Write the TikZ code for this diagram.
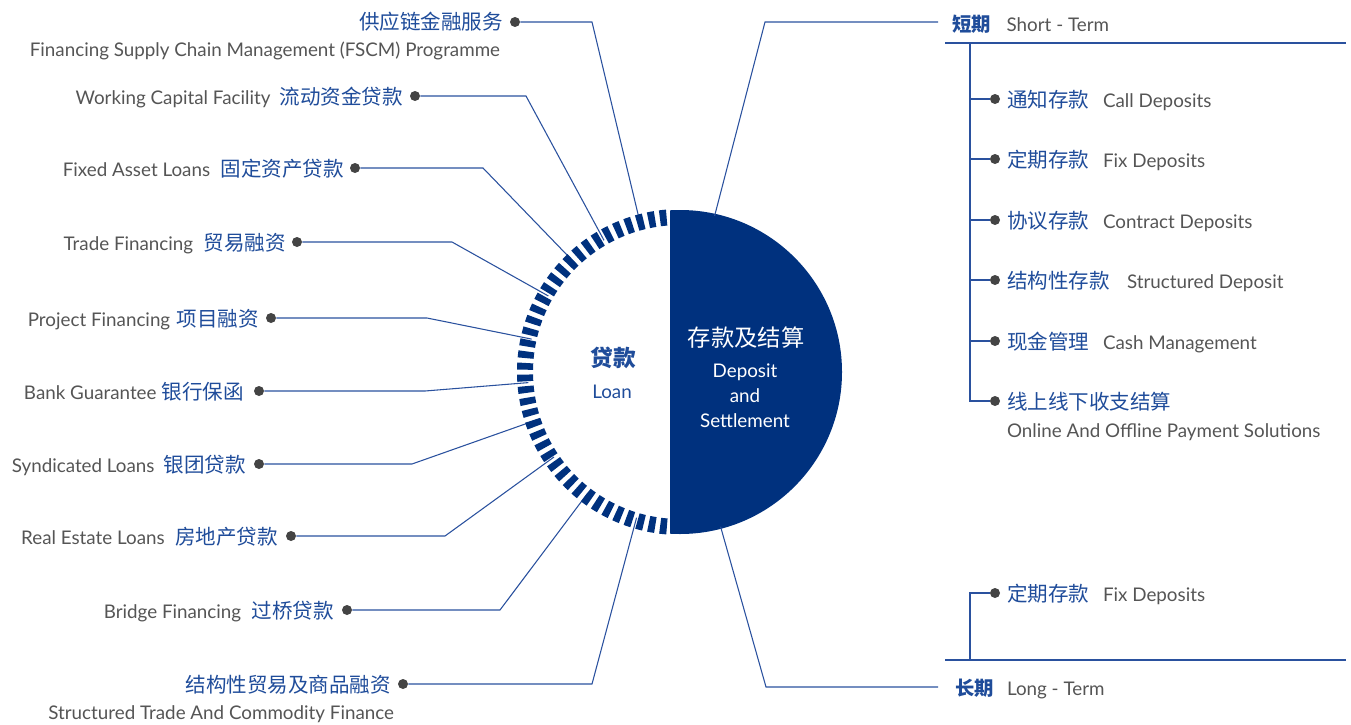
\documentclass[tikz,border=0pt]{standalone}
\usepackage{fontspec}
\setmainfont{Lato}
\newfontfamily\cjk{Noto Sans CJK SC}
\usetikzlibrary{calc}
\definecolor{navy}{HTML}{00317E}
\definecolor{lblue}{HTML}{2A519E}
\definecolor{tblue}{HTML}{1F4C9A}
\definecolor{tgray}{HTML}{555555}
\definecolor{dgray}{HTML}{444444}
\newcommand{\zhtxt}[1]{{\cjk\fontsize{15.4}{18}\selectfont\color{tblue}#1}}
\newcommand{\entxt}[1]{{\fontsize{14.1}{16}\selectfont\color{tgray}#1}}
\tikzset{
  bul/.style={circle, fill=dgray, inner sep=0pt, minimum size=7.5pt},
  conn/.style={draw=lblue, line width=0.8pt, line join=miter},
  rulel/.style={draw=lblue, line width=1pt},
  lbl/.style={inner sep=0pt, outer sep=0pt},
}
\begin{document}
\begin{tikzpicture}[x=0.75pt,y=0.75pt]
\useasboundingbox (0,0) rectangle (1351,-724);
\coordinate (C) at (680,-372);

% ---------- left items: dots and labels ----------
\node[bul] (d1) at (515,-22) {};
\node[lbl, anchor=base east] (t1) at (503,-30) {\zhtxt{供应链金融服务}};
\node[lbl, anchor=base east] (t1e) at (500,-57) {\entxt{Financing Supply Chain Management (FSCM) Programme}};

\node[bul] (d2) at (415,-96) {};
\node[lbl, anchor=base east] (t2) at (403,-104) {\entxt{Working Capital Facility}\hspace{7pt}\zhtxt{流动资金贷款}};

\node[bul] (d3) at (355,-168) {};
\node[lbl, anchor=base east] (t3) at (344,-176) {\entxt{Fixed Asset Loans}\hspace{8pt}\zhtxt{固定资产贷款}};

\node[bul] (d4) at (297,-242) {};
\node[lbl, anchor=base east] (t4) at (286,-250) {\entxt{Trade Financing}\hspace{8pt}\zhtxt{贸易融资}};

\node[bul] (d5) at (271,-318) {};
\node[lbl, anchor=base east] (t5) at (259,-326) {\entxt{Project Financing}\hspace{5pt}\zhtxt{项目融资}};

\node[bul] (d6) at (259,-391) {};
\node[lbl, anchor=base east] (t6) at (244,-399) {\entxt{Bank Guarantee}\hspace{4pt}\zhtxt{银行保函}};

\node[bul] (d7) at (259,-464) {};
\node[lbl, anchor=base east] (t7) at (246,-472) {\entxt{Syndicated Loans}\hspace{7pt}\zhtxt{银团贷款}};

\node[bul] (d8) at (291,-536) {};
\node[lbl, anchor=base east] (t8) at (278,-544) {\entxt{Real Estate Loans}\hspace{8pt}\zhtxt{房地产贷款}};

\node[bul] (d9) at (347,-610) {};
\node[lbl, anchor=base east] (t9) at (334,-618) {\entxt{Bridge Financing}\hspace{8pt}\zhtxt{过桥贷款}};

\node[bul] (d10) at (403,-684) {};
\node[lbl, anchor=base east] (t10) at (391,-692) {\zhtxt{结构性贸易及商品融资}};
\node[lbl, anchor=base east] (t10e) at (394,-719) {\entxt{Structured Trade And Commodity Finance}};

% ---------- ring end points ----------
\coordinate (e1) at ($(C)+(105:152)$);
\coordinate (e2) at ($(C)+(120:152)$);
\coordinate (e3) at ($(C)+(134:152)$);
\coordinate (e4) at ($(C)+(150:152)$);
\coordinate (e5) at ($(C)+(167.5:152)$);
\coordinate (e6) at ($(C)+(184:152)$);
\coordinate (e7) at ($(C)+(198.5:152)$);
\coordinate (e8) at ($(C)+(214:152)$);
\coordinate (e9) at ($(C)+(232.7:152)$);
\coordinate (e10) at ($(C)+(253.4:152)$);

\draw[conn] (d1) -- (592,-22) -- (e1);
\draw[conn] (d2) -- (526,-96) -- (e2);
\draw[conn] (d3) -- (483,-168) -- (e3);
\draw[conn] (d4) -- (452,-242) -- (e4);
\draw[conn] (d5) -- (427,-318) -- (e5);
\draw[conn] (d6) -- (425,-391) -- (e6);
\draw[conn] (d7) -- (412,-464) -- (e7);
\draw[conn] (d8) -- (445,-536) -- (e8);
\draw[conn] (d9) -- (500,-610) -- (e9);
\draw[conn] (d10) -- (592,-684) -- (e10);

% ---------- filled segment ----------
\begin{scope}
  \clip (670,-100) rectangle (900,-650);
  \fill[navy] (C) circle (162);
\end{scope}

% ---------- dashed ring ----------
\foreach \k in {0,...,39}{
  \pgfmathsetmacro\aa{96.2+4.3*\k-1.25}
  \pgfmathsetmacro\ab{96.2+4.3*\k+1.25}
  \fill[navy] ($(C)+(\aa:163)$) arc[start angle=\aa, end angle=\ab, radius=163]
     -- ($(C)+(\ab:147)$) arc[start angle=\ab, end angle=\aa, radius=147] -- cycle;
}

% ---------- centre texts ----------
\node[lbl, text=tblue, font=\cjk\bfseries\fontsize{17}{20}\selectfont] (loanzh) at (613,-358) {贷款};
\node[lbl, text=tblue, font=\fontsize{14.1}{17}\selectfont] (loanen) at (612,-392) {Loan};
\node[lbl, text=white, font=\cjk\fontsize{17.5}{20}\selectfont] (depzh) at (746,-338) {存款及结算};
\node[lbl, text=white, align=center, font=\fontsize{14.1}{18.75}\selectfont] (depen) at (745,-396) {Deposit\\and\\Settlement};

% ---------- short term ----------
\coordinate (s0) at ($(C)+(77.5:160)$);
\coordinate (s1) at (765,-22);
\coordinate (s2) at (938,-22);
\draw[conn] (s0) -- (s1) -- (s2);
\node[lbl, anchor=base west] (st) at (952,-32) {{\cjk\bfseries\fontsize{14.5}{17}\selectfont\color{tblue}短期}\hspace{12pt}\entxt{Short - Term}};
\coordinate (r1a) at (945,-43);
\coordinate (r1b) at (1346,-43);
\draw[rulel] (r1a) -- (r1b);

\coordinate (v0) at (970,-43);
\foreach \n/\y in {a/99,b/159,c/220,d/280,e/341,f/401}{
  \node[bul] (sd\n) at (995,-\y) {};
  \coordinate (sv\n) at (970,-\y);
}
\draw[conn] (v0) -- (svf) -- (sdf);
\foreach \n in {a,b,c,d,e}{ \draw[conn] (sv\n) -- (sd\n); }

\node[lbl, anchor=base west] (sza) at (1007,-107) {\zhtxt{通知存款}};
\node[lbl, anchor=base west] (sea) at (1103,-107) {\entxt{Call Deposits}};
\node[lbl, anchor=base west] (szb) at (1007,-167) {\zhtxt{定期存款}};
\node[lbl, anchor=base west] (seb) at (1103,-167) {\entxt{Fix Deposits}};
\node[lbl, anchor=base west] (szc) at (1007,-228) {\zhtxt{协议存款}};
\node[lbl, anchor=base west] (sec) at (1103,-228) {\entxt{Contract Deposits}};
\node[lbl, anchor=base west] (szd) at (1007,-288) {\zhtxt{结构性存款}};
\node[lbl, anchor=base west] (sed) at (1127,-288) {\entxt{Structured Deposit}};
\node[lbl, anchor=base west] (sze) at (1007,-349) {\zhtxt{现金管理}};
\node[lbl, anchor=base west] (see) at (1103,-349) {\entxt{Cash Management}};
\node[lbl, anchor=base west] (szf) at (1007,-409) {\zhtxt{线上线下收支结算}};
\node[lbl, anchor=base west] (sef) at (1007,-437) {\entxt{Online And Offline Payment Solutions}};

% ---------- long term ----------
\coordinate (l0) at ($(C)+(-75.3:160)$);
\coordinate (l1) at (766,-687);
\coordinate (l2) at (938,-687);
\draw[conn] (l0) -- (l1) -- (l2);
\node[lbl, anchor=base west] (lt) at (955,-695) {{\cjk\bfseries\fontsize{14.5}{17}\selectfont\color{tblue}长期}\hspace{10pt}\entxt{Long - Term}};
\coordinate (r2a) at (945,-660);
\coordinate (r2b) at (1346,-660);
\draw[rulel] (r2a) -- (r2b);
\node[bul] (ld) at (995,-593) {};
\coordinate (lv0) at (970,-660);
\coordinate (lv1) at (970,-593);
\draw[conn] (lv0) -- (lv1) -- (ld);
\node[lbl, anchor=base west] (lz) at (1007,-601) {\zhtxt{定期存款}};
\node[lbl, anchor=base west] (le) at (1103,-601) {\entxt{Fix Deposits}};
\end{tikzpicture}
\end{document}
